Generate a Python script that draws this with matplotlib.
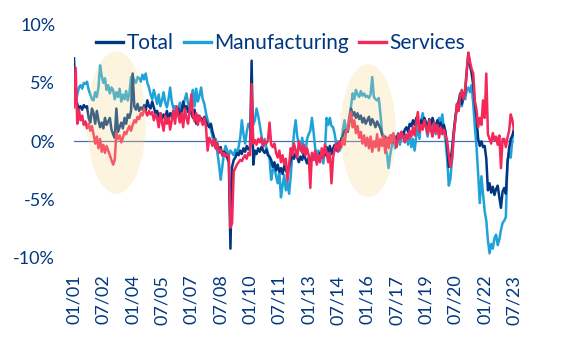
import matplotlib
matplotlib.use("Agg")
import matplotlib.pyplot as plt
from matplotlib.patches import Ellipse
import numpy as np
import pandas as pd

# Monthly values, Jan 2001 - Jul 2023 (%)
total = [
    7.1, 3.6, 3.2, 2.8, 3.0, 2.7, 3.1, 2.9, 3.0, 2.0, 1.6, 2.8,   # 2001
    2.4, 1.5, 2.6, 1.8, 1.2, 1.6, 1.1, 2.0, 1.4, 1.7, 2.0, 1.0,   # 2002
    0.6, 0.3, 2.8, 0.8, 1.2, 1.6, 1.1, 2.0, 1.5, 2.3, 2.0, 2.6,   # 2003
    5.8, 3.0, 2.7, 3.2, 2.6, 2.9, 2.7, 3.1, 2.6, 3.5, 3.0, 2.8,   # 2004
    3.4, 2.9, 2.4, 2.6, 2.1, 2.4, 1.9, 2.3, 2.0, 2.6, 1.8, 2.4,   # 2005
    2.2, 2.6, 2.0, 2.4, 2.8, 2.1, 2.6, 3.4, 2.8, 3.0, 2.5, 2.8,   # 2006
    2.4, 2.0, 2.7, 1.5, 2.2, 1.8, 2.0, 1.6, 2.1, 1.7, 1.4, 1.2,   # 2007
    1.5, 0.8, 0.3, -0.6, -0.2, -0.8, -0.5, -1.2, -0.9, -1.0, -1.4, -1.8,  # 2008
    -9.2, -2.2, -1.6, -1.4, -1.0, -1.2, -0.8, -1.1, -0.6, -0.9, -0.4, -0.7,  # 2009
    -0.6, 6.9, -2.0, -0.8, -1.1, -0.6, -0.9, -0.5, -0.8, -1.0, -0.7, -1.2,  # 2010
    -1.3, -1.6, -2.2, -1.8, -2.5, -2.0, -2.6, -2.3, -2.8, -2.1, -2.5, -2.7,  # 2011
    -2.2, -1.6, -1.2, -1.5, -1.0, -1.4, -1.8, -1.3, -1.6, -1.1, -1.5, -1.9,  # 2012
    -1.4, -2.0, -1.2, -1.6, -1.3, -1.8, -1.5, -1.0, -1.4, -0.8, -1.2, -0.5,  # 2013
    -0.9, -0.4, -1.1, -0.6, -0.3, -0.8, -0.2, -0.5, 0.2, 0.5, 0.9, 1.0,   # 2014
    0.8, 1.6, 2.8, 2.2, 2.5, 2.0, 2.4, 1.9, 2.2, 1.6, 2.0, 1.5,   # 2015
    1.8, 2.1, 1.4, 1.9, 1.6, 1.2, 1.7, 1.4, 1.1, 0.6, 0.2, 0.4,   # 2016
    -0.2, 0.3, 0.0, 0.5, -0.1, 0.4, 0.2, 0.6, 0.3, 0.8, 0.5, 1.0,  # 2017
    1.2, 0.8, 1.5, 1.3, 1.8, 1.4, 2.0, 1.6, 1.2, 1.8, 1.5, 2.0,   # 2018
    1.6, 1.2, 1.9, 1.4, 2.0, 1.5, 1.3, 1.8, 1.2, 1.6, 1.0, 1.4,   # 2019
    0.8, -0.5, -2.2, -1.8, -0.6, 0.8, 2.0, 2.9, 3.4, 4.1, 3.2, 3.8,  # 2020
    4.2, 6.0, 7.5, 6.5, 5.8, 4.8, 3.2, 2.0, 0.2, -0.4, 0.0, -0.5,  # 2021
    -0.4, -1.5, -4.2, -3.6, -4.4, -3.9, -4.6, -4.1, -3.8, -4.8, -5.7, -4.3,  # 2022
    -4.0, -4.5, -1.9, -0.6, 0.2, 0.5, 1.0,                        # 2023
]

manufacturing = [
    3.6, 3.4, 4.0, 4.6, 4.8, 4.5, 5.0, 4.9, 5.1, 4.4, 4.0, 3.6,   # 2001
    3.5, 4.2, 3.8, 4.6, 6.5, 5.6, 5.0, 5.4, 4.4, 4.8, 4.1, 4.6,   # 2002
    4.4, 3.6, 4.2, 3.8, 4.5, 3.4, 4.0, 3.6, 4.3, 3.5, 4.1, 5.5,   # 2003
    5.6, 5.2, 5.0, 5.5, 5.4, 5.1, 5.7, 5.3, 5.8, 5.0, 4.6, 4.0,   # 2004
    3.6, 4.4, 3.8, 3.2, 4.0, 3.0, 3.5, 4.2, 3.3, 2.9, 3.6, 4.6,   # 2005
    3.4, 2.8, 3.0, 2.2, 2.7, 3.3, 2.4, 3.0, 3.6, 4.1, 3.2, 2.6,   # 2006
    3.8, 4.4, 3.0, 4.5, 3.4, 3.9, 4.6, 3.6, 3.2, 2.4, 1.8, 1.4,   # 2007
    1.0, 0.4, -0.3, 0.2, -1.0, -2.0, -3.3, -2.2, -1.0, -0.4, -0.8, -1.2,  # 2008
    -0.8, -1.0, -1.2, -0.7, -1.1, -0.5, 0.3, 1.8, 0.6, -0.2, 0.8, 1.5,  # 2009
    1.2, 2.0, 1.4, 1.8, 2.8, 2.2, 1.4, 0.5, -0.6, 0.2, -0.5, -1.0,  # 2010
    -1.5, -3.3, -2.5, -2.2, -3.0, -3.6, -2.6, -4.8, -3.8, -2.9, -4.2, -3.5,  # 2011
    -4.5, -3.0, -1.0, 0.7, 1.8, 0.4, -0.2, -0.8, 0.3, -0.6, -1.1, 0.2,  # 2012
    0.6, 0.9, 2.0, 0.8, -0.6, -1.2, -0.8, -1.5, -1.0, -1.9, -0.7, 2.0,  # 2013
    1.4, 2.0, 1.3, 1.2, 0.6, -0.3, 0.0, -0.8, -0.4, 1.0, 1.8, 0.9,   # 2014
    1.2, 2.2, 3.0, 4.1, 3.6, 4.4, 4.0, 3.8, 4.3, 3.9, 4.1, 3.8,   # 2015
    3.9, 3.7, 4.0, 5.5, 3.8, 3.6, 3.5, 3.7, 2.4, 0.8, 0.2, -0.6,  # 2016
    -1.0, -2.3, -1.2, -0.4, 0.5, -0.6, 0.3, 0.7, -0.3, 0.4, 0.8, 0.1,  # 2017
    0.5, -0.3, 0.6, -0.5, 0.2, -0.8, 0.4, 1.2, 0.2, 1.8, 2.4, 1.5,  # 2018
    1.2, 0.4, 1.6, 0.8, 1.9, 1.1, 0.6, 1.4, 2.0, 1.6, 2.3, 1.0,   # 2019
    0.0, -1.5, -3.8, -3.2, -1.5, 0.5, 2.0, 3.2, 2.6, 3.6, 3.0, 4.0,  # 2020
    3.6, 4.4, 4.6, 4.2, 4.8, 3.2, 1.2, -0.5, -2.8, -5.3, -3.0, -4.5,  # 2021
    -6.0, -6.8, -8.5, -9.6, -8.8, -9.2, -8.3, -8.0, -8.9, -8.4, -7.6, -7.0,  # 2022
    -6.8, -6.5, -1.6, -1.0, -1.4, 0.2, 1.1,                       # 2023
]

services = [
    2.9, 6.3, 1.5, 2.7, 1.8, 2.2, 1.4, 1.7, 1.1, 1.5, 0.9, 1.3,   # 2001
    0.6, -0.2, 0.4, -0.6, 0.2, -0.9, -0.3, -1.0, -0.4, -0.8, -1.2, -1.6,  # 2002
    -2.0, -1.6, 0.7, 0.2, 0.5, -0.1, 0.3, 0.8, 0.6, 1.0, 1.3, 0.9,  # 2003
    1.4, 1.8, 1.6, 2.1, 1.9, 2.4, 2.2, 2.8, 2.5, 2.2, 2.6, 2.3,   # 2004
    2.5, 1.8, 2.3, 2.0, 1.2, 2.4, 1.6, 0.9, 2.2, 1.5, 2.0, 1.0,   # 2005
    1.8, 2.6, 1.5, 3.0, 2.2, 1.6, 2.4, 1.2, 2.8, 2.0, 1.5, 2.7,   # 2006
    4.0, 2.2, 1.7, 2.4, 1.4, 2.2, 1.8, 1.4, 2.0, 1.2, -0.8, 0.3,  # 2007
    0.0, -0.4, 0.2, -0.6, -0.2, -1.0, -0.7, -1.2, -1.0, -1.3, -1.1, -1.2,  # 2008
    -7.4, -7.0, -2.6, -2.3, -2.0, -1.8, -1.6, -1.7, -1.4, -1.2, -1.5, -1.0,  # 2009
    -1.2, 4.9, -0.2, 0.1, -0.3, 0.2, -0.1, 0.3, -0.4, 0.0, -0.2, 0.1,  # 2010
    1.6, -0.3, -0.5, -0.2, -1.0, -1.4, -0.8, -1.8, -1.2, -2.0, -1.5, -3.4,  # 2011
    -2.0, -0.6, -1.2, -0.2, -0.8, -1.4, 0.0, -0.5, -1.0, -0.3, -1.2, -0.6,  # 2012
    -1.2, -4.0, -1.0, -1.6, -0.8, -2.0, -1.2, -1.8, -0.6, -1.4, -0.3, -1.0,  # 2013
    -1.8, -1.0, -3.6, -1.4, -0.6, -0.2, -0.9, 0.0, -0.5, 0.2, -0.3, 0.9,  # 2014
    1.0, 2.0, 2.5, 1.2, 1.8, 0.7, 1.3, 0.3, 0.8, -0.2, 0.5, -0.4,  # 2015
    0.3, -0.6, 0.4, -0.9, 0.0, -0.5, 0.6, -0.8, 0.2, -0.4, 0.5, -1.0,  # 2016
    0.3, -0.6, 0.5, -0.2, 0.7, 0.0, -0.5, 0.6, 0.2, 0.8, 0.3, -0.1,  # 2017
    0.6, 0.2, 0.9, 0.4, 1.2, 0.5, 1.6, 2.5, 0.8, 1.4, 1.0, 1.8,   # 2018
    1.2, 0.6, 1.8, 1.0, 0.4, 1.6, 0.8, 1.4, 0.3, 1.2, 0.6, 1.0,   # 2019
    0.5, 0.0, -1.2, -2.2, -1.5, 0.5, 1.8, 3.2, 2.6, 3.9, 4.4, 3.6,  # 2020
    4.4, 6.0, 7.6, 6.8, 6.2, 5.8, 3.4, 2.7, 1.2, 2.0, 1.4, 3.5,   # 2021
    2.0, 5.8, 0.6, 0.2, -0.2, 0.7, 0.1, 0.4, -0.3, 0.5, -2.3, 0.2,  # 2022
    0.2, -0.5, 0.3, 0.9, 2.3, 1.8, 1.0,                           # 2023
]

series_names = ["Total", "Manufacturing", "Services"]
tick_labels = ["01/01", "07/02", "01/04", "07/05", "01/07", "07/08", "01/10", "07/11",
               "01/13", "07/14", "01/16", "07/17", "01/19", "07/20", "01/22", "07/23"]
y_ticks = [-10, -5, 0, 5, 10]
y_tick_labels = ["-10%", "-5%", "0%", "5%", "10%"]

NAVY = "#003781"
CYAN = "#1FA2D8"
RED = "#F5285A"
FONT = ["Lato", "DejaVu Sans"]

plt.rcParams["font.family"] = FONT

fig = plt.figure(figsize=(5.61, 3.41), dpi=100)
ax = fig.add_axes([74 / 561, 1 - 258 / 341, 440 / 561, (258 - 24.5) / 341])

x = np.arange(len(total))
ax.axhline(0, color="#4A6FB0", lw=0.9, zorder=1)
ax.plot(x, total, color=NAVY, lw=1.8, label=series_names[0], zorder=3)
ax.plot(x, manufacturing, color=CYAN, lw=1.8, label=series_names[1], zorder=2)
ax.plot(x, services, color=RED, lw=1.8, label=series_names[2], zorder=4)

for cx, cy, w, h in [(26, 1.6, 36, 12.2), (180.5, 0.9, 34, 11.4)]:
    ax.add_patch(Ellipse((cx, cy), w, h, facecolor="#F6D98A", edgecolor="none",
                         alpha=0.28, zorder=5))

ax.set_xlim(0, len(total) - 1)
ax.set_ylim(-10, 10)
ax.set_xticks(np.arange(0, len(total), 18))
ax.set_xticklabels(tick_labels, rotation=90, color=NAVY, fontsize=13)
ax.set_yticks(y_ticks)
ax.set_yticklabels(y_tick_labels, color=NAVY, fontsize=13)
ax.tick_params(axis="both", length=0)
ax.tick_params(axis="y", pad=13.5)
ax.tick_params(axis="x", pad=12)
for s in ax.spines.values():
    s.set_visible(False)

leg = ax.legend(loc="upper center", bbox_to_anchor=(0.47, 1.0), ncol=3, frameon=False,
                fontsize=15, handlelength=1.3, handletextpad=0.15, columnspacing=0.5,
                borderaxespad=0.0)
for t in leg.get_texts():
    t.set_color(NAVY)
for l in leg.get_lines():
    l.set_linewidth(2.4)

fig.savefig("out.png", dpi=100)
